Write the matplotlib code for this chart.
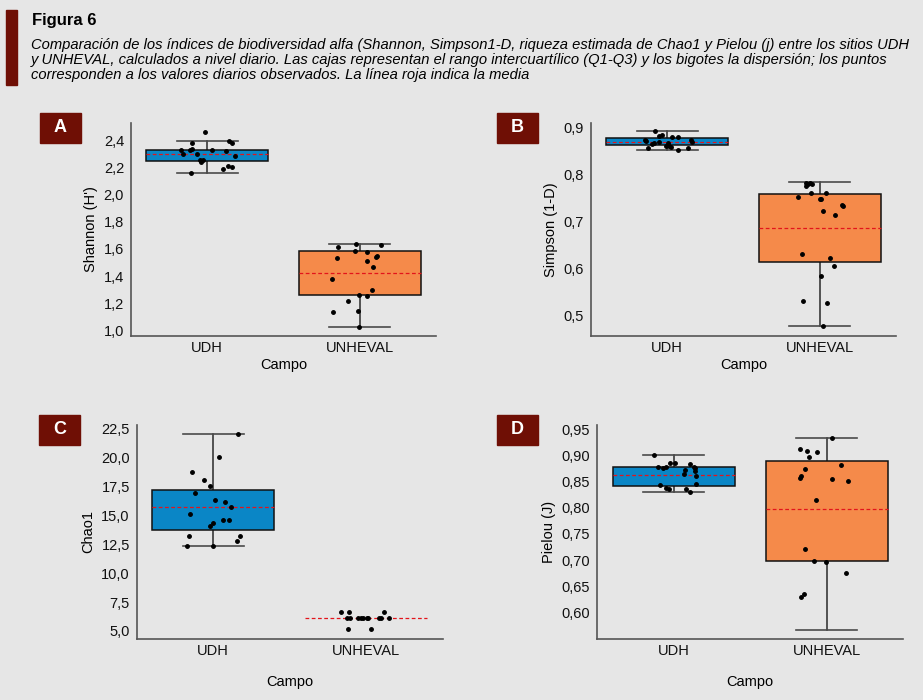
import matplotlib
matplotlib.use("Agg")
import matplotlib.pyplot as plt
from matplotlib.ticker import FixedLocator, FuncFormatter
from matplotlib.patches import Rectangle

# ---- data ----
campos = ["UDH", "UNHEVAL"]

# A - Shannon
shannon_udh = [2.456, 2.378, 2.390, 2.378, 2.324, 2.324, 2.336, 2.295, 2.300, 2.324,
               2.319, 2.280, 2.253, 2.255, 2.236, 2.187, 2.211, 2.204, 2.155]
shannon_udh_jit = [-0.015, -0.10, 0.14, 0.165, -0.17, -0.11, -0.10, -0.16, -0.07, 0.03,
                   0.125, 0.18, -0.05, -0.03, -0.04, 0.105, 0.135, 0.165, -0.105]
shannon_unh = [1.636, 1.631, 1.612, 1.587, 1.575, 1.531, 1.543, 1.550, 1.509, 1.465,
               1.382, 1.299, 1.260, 1.255, 1.218, 1.137, 1.147, 1.025]
shannon_unh_jit = [-0.025, 0.14, -0.14, -0.03, 0.045, -0.15, 0.105, 0.11, 0.05, 0.09,
                   -0.18, 0.077, -0.008, 0.05, -0.08, -0.177, -0.014, -0.008]
# box stats per campo: q1, q3, whisker low, whisker high, mean
shannon_q1 = [2.246, 1.262]
shannon_q3 = [2.327, 1.583]
shannon_lo = [2.158, 1.027]
shannon_hi = [2.393, 1.639]
shannon_mean = [2.297, 1.421]

# B - Simpson
simpson_udh = [0.893, 0.884, 0.881, 0.880, 0.879, 0.874, 0.872, 0.869, 0.867, 0.864,
               0.866, 0.860, 0.859, 0.856, 0.852, 0.857, 0.873, 0.869, 0.861]
simpson_udh_jit = [-0.078, -0.037, -0.056, 0.032, 0.069, -0.145, -0.139, -0.054, -0.089, -0.102,
                   0.002, 0.013, 0.026, -0.126, 0.071, 0.134, 0.158, 0.165, -0.006]
simpson_unh = [0.782, 0.780, 0.781, 0.779, 0.776, 0.761, 0.760, 0.751, 0.748, 0.747, 0.734,
               0.733, 0.722, 0.714, 0.630, 0.622, 0.604, 0.583, 0.530, 0.525, 0.477]
simpson_unh_jit = [-0.093, -0.078, -0.063, -0.052, -0.089, -0.056, 0.041, -0.143, 0.0, 0.006, 0.143,
                   0.154, 0.024, 0.097, -0.119, 0.069, 0.095, 0.009, -0.108, 0.048, 0.022]
simpson_q1 = [0.862, 0.614]
simpson_q3 = [0.878, 0.759]
simpson_lo = [0.852, 0.477]
simpson_hi = [0.893, 0.783]
simpson_mean = [0.869, 0.685]

# C - Chao1
chao_udh = [21.98, 19.99, 18.70, 18.01, 17.49, 16.91, 16.28, 16.16, 15.70, 15.13,
            14.55, 14.55, 14.30, 14.06, 13.23, 13.23, 12.74, 12.34, 12.34]
chao_udh_jit = [0.161, 0.04, -0.139, -0.062, -0.022, -0.119, 0.009, 0.08, 0.117, -0.15,
                0.064, 0.102, -0.002, -0.018, -0.155, 0.172, 0.157, -0.168, 0.002]
chao_unh = [6.6, 6.6, 6.6, 6.1, 6.1, 6.1, 6.1, 6.1, 6.1, 6.1, 6.1, 6.1, 6.1, 5.15, 5.15]
chao_unh_jit = [-0.166, -0.11, 0.119, -0.124, -0.106, -0.051, -0.035, -0.022, 0.004, 0.015,
                0.086, 0.099, 0.146, -0.122, 0.033]
chao_q1 = [13.69, 6.1]
chao_q3 = [17.17, 6.1]
chao_lo = [12.33, 6.1]
chao_hi = [21.98, 6.1]
chao_mean = [15.70, 6.1]

# D - Pielou
pielou_udh = [0.900, 0.885, 0.886, 0.884, 0.878, 0.876, 0.877, 0.877, 0.875, 0.872,
              0.870, 0.865, 0.861, 0.844, 0.846, 0.837, 0.835, 0.835, 0.830]
pielou_udh_jit = [-0.130, -0.023, 0.008, 0.108, -0.10, -0.071, -0.049, 0.13, 0.137, 0.071,
                  0.141, 0.065, 0.143, -0.093, 0.143, -0.049, -0.03, 0.078, 0.104]
pielou_unh = [0.934, 0.912, 0.909, 0.907, 0.897, 0.882, 0.874, 0.860, 0.856, 0.855,
              0.851, 0.814, 0.721, 0.699, 0.697, 0.676, 0.636, 0.629]
pielou_unh_jit = [0.032, -0.174, -0.128, -0.064, -0.119, 0.095, -0.145, -0.167, -0.176, 0.036,
                  0.139, -0.069, -0.143, -0.084, -0.003, 0.128, -0.152, -0.169]
pielou_q1 = [0.842, 0.699]
pielou_q3 = [0.877, 0.889]
pielou_lo = [0.830, 0.567]
pielou_hi = [0.900, 0.934]
pielou_mean = [0.863, 0.798]

caption_lines = [
    "Comparación de los índices de biodiversidad alfa (Shannon, Simpson1-D, riqueza estimada de Chao1 y Pielou (j) entre los sitios UDH",
    "y UNHEVAL, calculados a nivel diario. Las cajas representan el rango intercuartílico (Q1-Q3) y los bigotes la dispersión; los puntos",
    "corresponden a los valores diarios observados. La línea roja indica la media",
]

# ---- style ----
BG = "#e6e6e6"
DARK_RED = "#6f0f05"
BOX_COLORS = ["#0a86c6", "#f58a4a"]

plt.rcParams["font.family"] = ["Liberation Sans", "DejaVu Sans"]
plt.rcParams["font.size"] = 10

fig = plt.figure(figsize=(9.23, 7.0), dpi=100, facecolor=BG)

# header
fig.patches.append(Rectangle((6 / 923, 1 - 85 / 700), 11 / 923, 75 / 700,
                             transform=fig.transFigure, color=DARK_RED))
fig.text(32 / 923, 1 - 25 / 700, "Figura 6", weight="bold", fontsize=12, va="baseline")
for k, line in enumerate(caption_lines):
    fig.text(31 / 923, 1 - (49.3 + 15 * k) / 700, line, style="italic",
             fontsize=10.6, va="baseline")


def comma(dec):
    return FuncFormatter(lambda v, p: f"{v:.{dec}f}".replace(".", ","))


panels = [
    dict(letter="A", rect=[0.1419, 0.5204, 0.3305, 0.3043], ylabel="Shannon (H')",
         data=[shannon_udh, shannon_unh], jit=[shannon_udh_jit, shannon_unh_jit],
         q1=shannon_q1, q3=shannon_q3, lo=shannon_lo, hi=shannon_hi, mean=shannon_mean,
         ylim=(0.963, 2.527), ticks=[1.0, 1.2, 1.4, 1.6, 1.8, 2.0, 2.2, 2.4], dec=1,
         badge=(40, 113), xpad=2),
    dict(letter="B", rect=[0.6403, 0.5204, 0.3304, 0.3043], ylabel="Simpson (1-D)",
         data=[simpson_udh, simpson_unh], jit=[simpson_udh_jit, simpson_unh_jit],
         q1=simpson_q1, q3=simpson_q3, lo=simpson_lo, hi=simpson_hi, mean=simpson_mean,
         ylim=(0.456, 0.910), ticks=[0.5, 0.6, 0.7, 0.8, 0.9], dec=1,
         badge=(497, 113), xpad=2),
    dict(letter="C", rect=[0.1481, 0.0876, 0.3315, 0.3053], ylabel="Chao1",
         data=[chao_udh, chao_unh], jit=[chao_udh_jit, chao_unh_jit],
         q1=chao_q1, q3=chao_q3, lo=chao_lo, hi=chao_hi, mean=chao_mean,
         ylim=(4.335, 22.79), ticks=[5, 7.5, 10, 12.5, 15, 17.5, 20, 22.5], dec=1,
         badge=(39, 415), xpad=12),
    dict(letter="D", rect=[0.6471, 0.0876, 0.3315, 0.3053], ylabel="Pielou (J)",
         data=[pielou_udh, pielou_unh], jit=[pielou_udh_jit, pielou_unh_jit],
         q1=pielou_q1, q3=pielou_q3, lo=pielou_lo, hi=pielou_hi, mean=pielou_mean,
         ylim=(0.550, 0.958), ticks=[0.60, 0.65, 0.70, 0.75, 0.80, 0.85, 0.90, 0.95], dec=2,
         badge=(497, 415), xpad=12),
]

for p in panels:
    ax = fig.add_axes(p["rect"])
    ax.set_facecolor(BG)
    width = 0.8
    for i, name in enumerate(campos):
        q1, q3, lo, hi, mu = p["q1"][i], p["q3"][i], p["lo"][i], p["hi"][i], p["mean"][i]
        if q3 > q1:
            # whiskers + caps
            ax.plot([i, i], [q3, hi], color="#2a2a2a", lw=1.1, zorder=1)
            ax.plot([i, i], [lo, q1], color="#2a2a2a", lw=1.1, zorder=1)
            ax.plot([i - 0.2, i + 0.2], [hi, hi], color="#4a4a4a", lw=1.2, zorder=1)
            ax.plot([i - 0.2, i + 0.2], [lo, lo], color="#4a4a4a", lw=1.2, zorder=1)
            ax.add_patch(Rectangle((i - width / 2, q1), width, q3 - q1,
                                   facecolor=BOX_COLORS[i], edgecolor="#111111",
                                   lw=1.1, zorder=2))
        ax.plot([i - width / 2, i + width / 2], [mu, mu], color="#e3141b",
                ls=(0, (3, 2)), lw=0.9, zorder=3)
        xs = [i + j for j in p["jit"][i]]
        ax.plot(xs, p["data"][i], "o", color="black", ms=2.5, zorder=4)

    ax.set_xlim(-0.5, 1.5)
    ax.set_ylim(*p["ylim"])
    ax.set_xticks([0, 1])
    ax.set_xticklabels(campos)
    ax.yaxis.set_major_locator(FixedLocator(p["ticks"]))
    ax.yaxis.set_major_formatter(comma(p["dec"]))
    ax.tick_params(axis="both", length=0, labelsize=10.5, colors="#111111")
    ax.tick_params(axis="x", pad=4)
    ax.tick_params(axis="y", pad=5)
    for s in ["top", "right"]:
        ax.spines[s].set_visible(False)
    for s in ["left", "bottom"]:
        ax.spines[s].set_color("#555555")
        ax.spines[s].set_linewidth(1.2)
    ax.set_ylabel(p["ylabel"], fontsize=10.5, labelpad=4)
    ax.set_xlabel("Campo", fontsize=10.5, labelpad=p["xpad"])

    bx, by = p["badge"]
    fig.patches.append(Rectangle((bx / 923, 1 - (by + 30) / 700), 41 / 923, 30 / 700,
                                 transform=fig.transFigure, color=DARK_RED))
    fig.text((bx + 20.5) / 923, 1 - (by + 15) / 700, p["letter"], color="white",
             weight="bold", fontsize=13, ha="center", va="center")

fig.savefig("out.png", dpi=100, facecolor=BG)
